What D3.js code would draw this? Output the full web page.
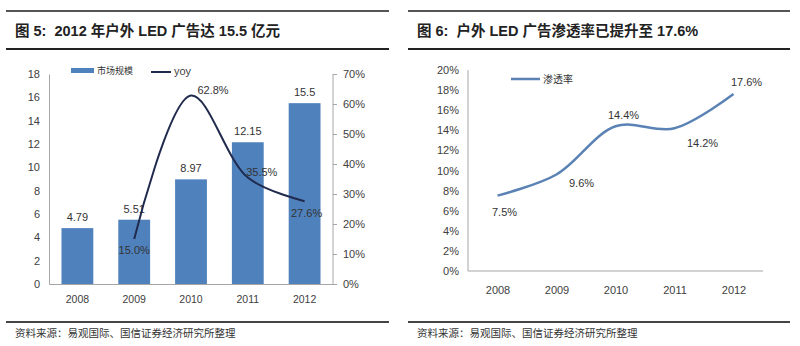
<!DOCTYPE html>
<html><head><meta charset="utf-8">
<script src="https://cdn.jsdelivr.net/npm/d3@7"></script>
<style>
body{margin:0;background:#fff;}
svg{display:block;font-family:Arial,"Liberation Sans","Noto Sans CJK SC",sans-serif;}
</style></head>
<body><svg id="c" width="800" height="346"></svg>
<script>
// Data
const years = ["2008","2009","2010","2011","2012"];
const marketSize = [4.79, 5.51, 8.97, 12.15, 15.5];
const marketLabels = ["4.79","5.51","8.97","12.15","15.5"];
const yoyYears = ["2009","2010","2011","2012"];
const yoy = [15.0, 62.8, 35.5, 27.6];
const penetration = [7.5, 9.6, 14.4, 14.2, 17.6];
const leftTicks = [0,2,4,6,8,10,12,14,16,18];
const rightTicks = [0,10,20,30,40,50,60,70];
const penTicks = [0,2,4,6,8,10,12,14,16,18,20];
const title1 = "图 5:  2012 年户外 LED 广告达 15.5 亿元";
const title2 = "图 6:  户外 LED 广告渗透率已提升至 17.6%";
const source = "资料来源：易观国际、国信证券经济研究所整理";

const svg = d3.select("#c");
const cjk = '"Noto Sans CJK SC",sans-serif';
const axisColor = "#404040";
const gridLine = "#a6a6a6";

// frames
function frame(x0, x1, title) {
  svg.append("line").attr("x1",x0).attr("x2",x1).attr("y1",11).attr("y2",11).attr("stroke","#555").attr("stroke-width",2);
  svg.append("line").attr("x1",x0).attr("x2",x1).attr("y1",49).attr("y2",49).attr("stroke","#222").attr("stroke-width",2);
  svg.append("line").attr("x1",x0).attr("x2",x1).attr("y1",322).attr("y2",322).attr("stroke","#444").attr("stroke-width",2);
  svg.append("text").attr("x",x0+9).attr("y",36).attr("font-size",14.5).attr("font-weight","bold")
    .attr("fill","#222").style("font-family",'Arial,"Noto Sans CJK SC",sans-serif').attr("xml:space","preserve").text(title);
  svg.append("text").attr("x",x0+9).attr("y",337).attr("font-size",10.5).attr("fill","#333")
    .style("font-family",cjk).text(source);
}
frame(6, 389, title1);
frame(408, 790, title2);

// Left chart
const x1 = d3.scaleBand().domain(years).range([49,333]).paddingInner(0.44).paddingOuter(0.22);
const yL = d3.scaleLinear().domain([0,18]).range([284,74]);
const yR = d3.scaleLinear().domain([0,70]).range([284,74]);

const gL = svg.append("g");
const axL = gL.append("g").attr("transform","translate(49,0)").call(d3.axisLeft(yL).tickValues(leftTicks).tickSize(0).tickPadding(9));
const axR = gL.append("g").attr("transform","translate(333,0)").call(d3.axisRight(yR).tickValues(rightTicks).tickSize(4).tickPadding(6).tickFormat(d=>d+"%"));
const axB = gL.append("g").attr("transform","translate(0,284)").call(d3.axisBottom(x1).tickSize(0).tickPadding(12));
[axL,axR,axB].forEach(a=>{
  a.selectAll("path").attr("stroke",gridLine);
  a.selectAll("line").attr("stroke",gridLine);
  a.selectAll("text").attr("fill",axisColor).attr("font-size",11).style("font-family","Arial,sans-serif");
});
axB.selectAll("text").attr("font-size",10.5);
axR.select("path").attr("d","M0,74V284");

// bars
gL.selectAll("rect.bar").data(years).enter().append("rect")
  .attr("x",d=>x1(d)).attr("width",x1.bandwidth())
  .attr("y",(d,i)=>yL(marketSize[i])).attr("height",(d,i)=>284-yL(marketSize[i]))
  .attr("fill","#4f81bd");
gL.selectAll("text.bl").data(years).enter().append("text")
  .attr("x",d=>x1(d)+x1.bandwidth()/2).attr("y",(d,i)=>yL(marketSize[i])-7)
  .attr("text-anchor","middle").attr("font-size",11).attr("fill","#333").text((d,i)=>marketLabels[i]);

// yoy line
const cx = d=>x1(d)+x1.bandwidth()/2;
const line1 = d3.line().x((d,i)=>cx(yoyYears[i])).y(d=>yR(d)).curve(d3.curveCatmullRom.alpha(0.5));
gL.append("path").datum(yoy).attr("d",line1).attr("fill","none").attr("stroke","#1f2a4d").attr("stroke-width",2);
const yoyOff = [[0,15],[22,-2],[14,-1.5],[2,16]];
gL.selectAll("text.yl").data(yoy).enter().append("text")
  .attr("x",(d,i)=>cx(yoyYears[i])+yoyOff[i][0]).attr("y",(d,i)=>yR(d)+yoyOff[i][1])
  .attr("text-anchor","middle").attr("font-size",11).attr("fill","#333").text(d=>d.toFixed(1)+"%");

// legend left
gL.append("rect").attr("x",71).attr("y",68).attr("width",23).attr("height",5).attr("fill","#4f81bd");
gL.append("text").attr("x",97).attr("y",74).attr("font-size",9).attr("fill","#333").style("font-family",cjk).text("市场规模");
gL.append("line").attr("x1",151).attr("x2",171).attr("y1",72).attr("y2",72).attr("stroke","#1f2a4d").attr("stroke-width",2);
gL.append("text").attr("x",174).attr("y",75).attr("font-size",11).attr("fill","#444").text("yoy");

// Right chart
const x2 = d3.scalePoint().domain(years).range([468,763]).padding(0.5);
const yP = d3.scaleLinear().domain([0,20]).range([271,70]);
const gR = svg.append("g");
const axP = gR.append("g").attr("transform","translate(468,0)").call(d3.axisLeft(yP).tickValues(penTicks).tickSize(0).tickPadding(9).tickFormat(d=>d+"%"));
const axX2 = gR.append("g").attr("transform","translate(0,271)").call(d3.axisBottom(x2).tickSize(0).tickPadding(15));
[axP,axX2].forEach(a=>{
  a.selectAll("path").attr("stroke",gridLine);
  a.selectAll("text").attr("fill",axisColor).attr("font-size",11).style("font-family","Arial,sans-serif");
});
axX2.select("path").attr("d","M468,0H763");
axP.select("path").attr("d","M0,70V271");

const line2 = d3.line().x((d,i)=>x2(years[i])).y(d=>yP(d)).curve(d3.curveCatmullRom.alpha(0.5));
gR.append("path").datum(penetration).attr("d",line2).attr("fill","none").attr("stroke","#5b82b4").attr("stroke-width",2.5);
const penOff = [[7,16],[25,8.5],[8,-11],[28,15],[13,-12]];
gR.selectAll("text.pl").data(penetration).enter().append("text")
  .attr("x",(d,i)=>x2(years[i])+penOff[i][0]).attr("y",(d,i)=>yP(d)+penOff[i][1]+4)
  .attr("text-anchor","middle").attr("font-size",11).attr("fill","#333").text(d=>d.toFixed(1)+"%");

gR.append("line").attr("x1",511).attr("x2",540).attr("y1",79).attr("y2",79).attr("stroke","#5b82b4").attr("stroke-width",2.5);
gR.append("text").attr("x",543).attr("y",83).attr("font-size",10).attr("fill","#333").style("font-family",cjk).text("渗透率");
</script></body></html>
